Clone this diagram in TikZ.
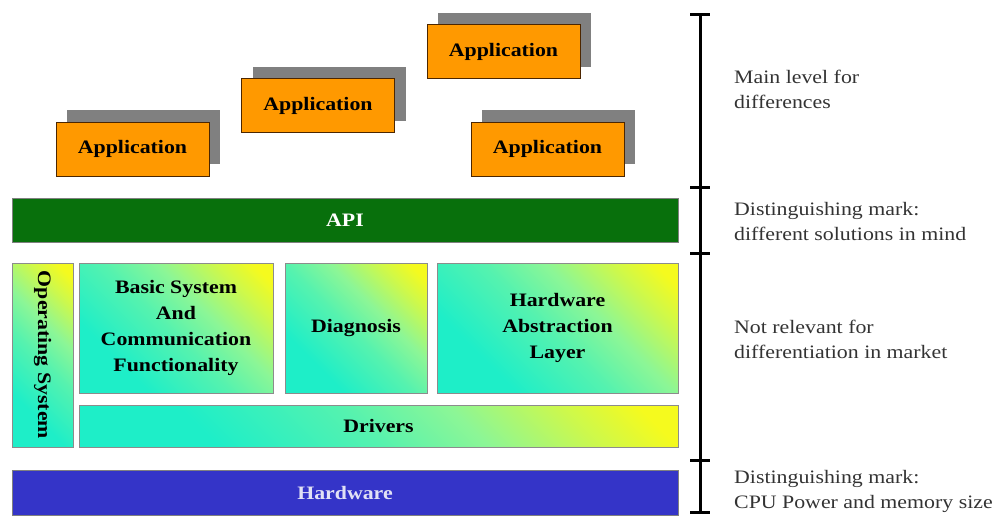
\documentclass[tikz,border=0pt]{standalone}
\usepackage{fontspec}
\setmainfont{Liberation Serif}
\newfontfamily\widefont[FakeStretch=1.15]{Liberation Serif}
\usetikzlibrary{shadows}
\definecolor{appor}{RGB}{255,153,0}
\definecolor{shadowgray}{RGB}{128,128,128}
\definecolor{apigreen}{RGB}{8,112,12}
\definecolor{hwblue}{RGB}{52,52,200}
\definecolor{hwtext}{RGB}{225,225,245}
\definecolor{cy}{RGB}{30,238,200}
\definecolor{mid}{RGB}{140,246,150}
\definecolor{ye}{RGB}{245,250,30}
\pgfdeclareverticalshading{layershade}{100bp}{color(0bp)=(cy); color(30bp)=(cy); color(48bp)=(cy!50!mid); color(60bp)=(mid); color(72bp)=(ye!60!mid); color(81bp)=(ye); color(100bp)=(ye)}
\begin{document}
\begin{tikzpicture}[x=1pt,y=-1pt,
  app/.style={draw=black!70!orange, line width=0.8pt, fill=appor, font=\widefont\fontsize{19}{21}\selectfont\bfseries,
    minimum width=153pt, minimum height=54pt, inner sep=0pt,
    drop shadow={shadow xshift=11pt, shadow yshift=12pt, fill=shadowgray, opacity=1}},
  layer/.style={draw=black!50, line width=0.8pt, inner sep=0pt, font=\widefont\fontsize{19}{21}\selectfont\bfseries},
  grad/.style={draw=black!45, line width=0.8pt, inner sep=0pt, align=center,
    font=\widefont\fontsize{19}{26.3}\selectfont\bfseries,
    shading=layershade, shading angle=-45},
  bar/.style={line width=3pt, black},
  note/.style={anchor=west, align=left, font=\widefont\fontsize{19}{25}\selectfont, text=black!80, inner sep=0pt}
]
\useasboundingbox (0,0) rectangle (996,517);

% applications
\node[app] (app1) at (132.5,149) {Application};
\node[app] (app2) at (318,105.5) {Application};
\node[app] (app3) at (503.5,51.5) {Application};
\node[app] (app4) at (547.5,149) {Application};

% API and hardware
\node[layer, fill=apigreen, text=white, minimum width=666pt, minimum height=44pt] (api) at (345,220) {API};
\node[layer, fill=hwblue, text=hwtext, minimum width=666pt, minimum height=45pt] (hw) at (345,492.5) {Hardware};

% middle layer
\node[grad, minimum width=61pt, minimum height=184pt] (os) at (42.5,355) {};
\node[rotate=-90, font=\widefont\fontsize{19}{21}\selectfont\bfseries] (ostext) at (os.center) {Operating System};
\node[grad, minimum width=194pt, minimum height=130pt] (basic) at (176,328) {Basic System\\And\\Communication\\Functionality};
\node[grad, minimum width=142pt, minimum height=130pt] (diag) at (356,328) {Diagnosis};
\node[grad, minimum width=241pt, minimum height=130pt] (hal) at (557.5,328) {Hardware\\Abstraction\\Layer};
\node[grad, minimum width=599pt, minimum height=42pt] (drv) at (378.5,426) {Drivers};

% right scale
\coordinate (t0) at (700,14);
\coordinate (t1) at (700,187);
\coordinate (t2) at (700,253);
\coordinate (t3) at (700,460);
\coordinate (t4) at (700,512);
\draw[bar] (t0) -- (t4);
\foreach \c in {t0,t1,t2,t3,t4} \draw[bar] ([xshift=-10pt]\c) -- ([xshift=10pt]\c);

\node[note] (n1) at (734,89.5) {Main level for\\differences};
\node[note] (n2) at (734,221.5) {Distinguishing mark:\\different solutions in mind};
\node[note] (n3) at (734,339.5) {Not relevant for\\differentiation in market};
\node[note] (n4) at (734,491.5) {Distinguishing mark:\\CPU Power and memory size};
\end{tikzpicture}
\end{document}
